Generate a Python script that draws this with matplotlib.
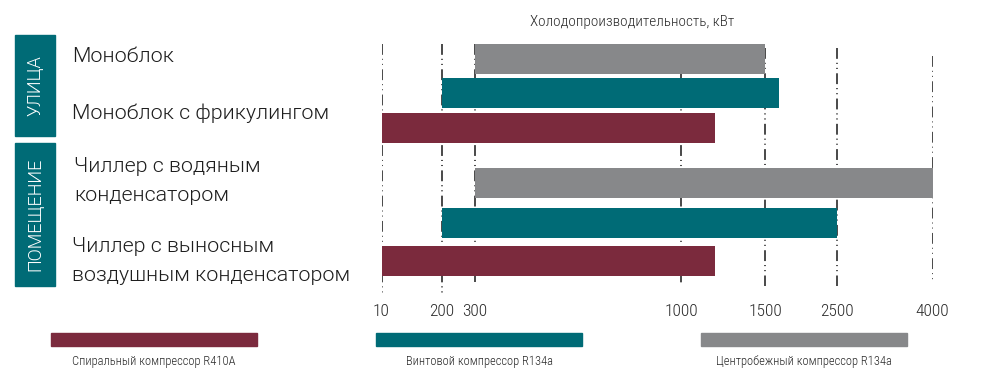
import matplotlib
matplotlib.use("Agg")
import matplotlib.pyplot as plt
import numpy as np
from matplotlib.patches import Rectangle

# ---- data
ticks = [10, 200, 300, 1000, 1500, 2500, 4000]
tick_labels = ["10", "200", "300", "1000", "1500", "2500", "4000"]

row_labels = [
    "Моноблок",
    "Моноблок с фрикулингом",
    "Чиллер с водяным\nконденсатором",
    "Чиллер с выносным\nвоздушным конденсатором",
]
group_labels = ["УЛИЦА", "ПОМЕЩЕНИЕ"]

series_names = [
    "Спиральный компрессор R410A",
    "Винтовой компрессор R134a",
    "Центробежный компрессор R134a",
]
# (start, end) in kW per series: [outdoor rows, indoor rows]
scroll_range = [(10, 1200), (10, 1200)]
screw_range = [(200, 1700), (200, 2500)]
centrifugal_range = [(300, 1500), (300, 4000)]

title = "Холодопроизводительность, кВт"

# ---- style
COLOR_MAROON = "#7b2a3d"
COLOR_TEAL = "#006b76"
COLOR_GRAY = "#87888a"
COLOR_LINE = "#3a3a3a"
FONT = "Roboto"
FONT_COND = "Roboto Condensed"

# piecewise axis: pixel position of each tick on the figure
tick_px = [381.5, 441.5, 474.5, 681, 765, 836.5, 932.5]

def fwd(x):
    return np.interp(x, ticks, tick_px)

def inv(x):
    return np.interp(x, tick_px, ticks)

fig = plt.figure(figsize=(10, 3.91), dpi=100)

# background overlay in pixel coordinates for side boxes and legend
bg = fig.add_axes([0, 0, 1, 1], zorder=0)
bg.set_xlim(0, 1000)
bg.set_ylim(391, 0)
bg.axis("off")

ax = fig.add_axes([0.3815, 1 - 296 / 391, 0.551, 252 / 391], zorder=1)
ax.patch.set_alpha(0)
ax.set_xscale("function", functions=(fwd, inv))
ax.set_xlim(10, 4000)
ax.set_ylim(296, 44)

# vertical dash-dot guide lines (drawn behind bars)
line_top = [44, 44, 44, 44, 48, 48, 56]
line_bot = [296, 296, 282, 286, 286, 286, 282]
for t, y0, y1 in zip(ticks, line_top, line_bot):
    ax.vlines(t, y0, y1, colors=COLOR_LINE, lw=1.3,
              linestyles=[(0, (6.0, 2.2, 0.6, 2.2, 0.6, 2.4))], zorder=1)

# bars: rows ordered top to bottom within each group
row_y = [[58.7, 93.0, 127.7], [183.3, 223.0, 261.3]]
bar_h = 30
series = [centrifugal_range, screw_range, scroll_range]
colors = [COLOR_GRAY, COLOR_TEAL, COLOR_MAROON]
for g in range(2):
    for i, (rng, c) in enumerate(zip(series, colors)):
        start, end = rng[g]
        ax.barh(row_y[g][i], end - start, left=start, height=bar_h,
                color=c, zorder=2, clip_on=False)

ax.set_xticks(ticks)
ax.set_xticklabels(tick_labels, family=FONT_COND, fontweight=300,
                   fontsize=12.5, color="#2a2a2a")
ax.tick_params(axis="x", length=0, pad=6)
ax.set_yticks([])
for s in ax.spines.values():
    s.set_visible(False)

bg.text(632, 22, title, ha="center", va="center", family=FONT_COND,
        fontweight=300, fontsize=11, color="#2a2a2a")

# side group boxes
box_y = [(35, 136), (142.7, 286)]
for (y0, y1), lab in zip(box_y, group_labels):
    bg.add_patch(Rectangle((15.3, y0), 40, y1 - y0, color=COLOR_TEAL))
    bg.text(35.5, (y0 + y1) / 2, lab, rotation=90, ha="center", va="center",
            color="white", family=FONT, fontweight=300, fontsize=13)

# row labels
label_pos = [(72, 56), (72, 113), (74, 181), (72, 261)]
for (x, y), lab in zip(label_pos, row_labels):
    bg.text(x, y, lab, ha="left", va="center", family=FONT, fontweight=300,
            fontsize=15.4, color="#1e1e1e", linespacing=1.62)

# legend
for i, (name, c) in enumerate(zip(series_names, [COLOR_MAROON, COLOR_TEAL, COLOR_GRAY])):
    x0 = 51 + 325 * i
    bg.add_patch(Rectangle((x0, 333), 206, 13, color=c))
    bg.text(x0 + 103, 361, name, ha="center", va="center", family=FONT_COND,
            fontweight=300, fontsize=9, color="#2a2a2a")

fig.savefig("out.png", dpi=100)
